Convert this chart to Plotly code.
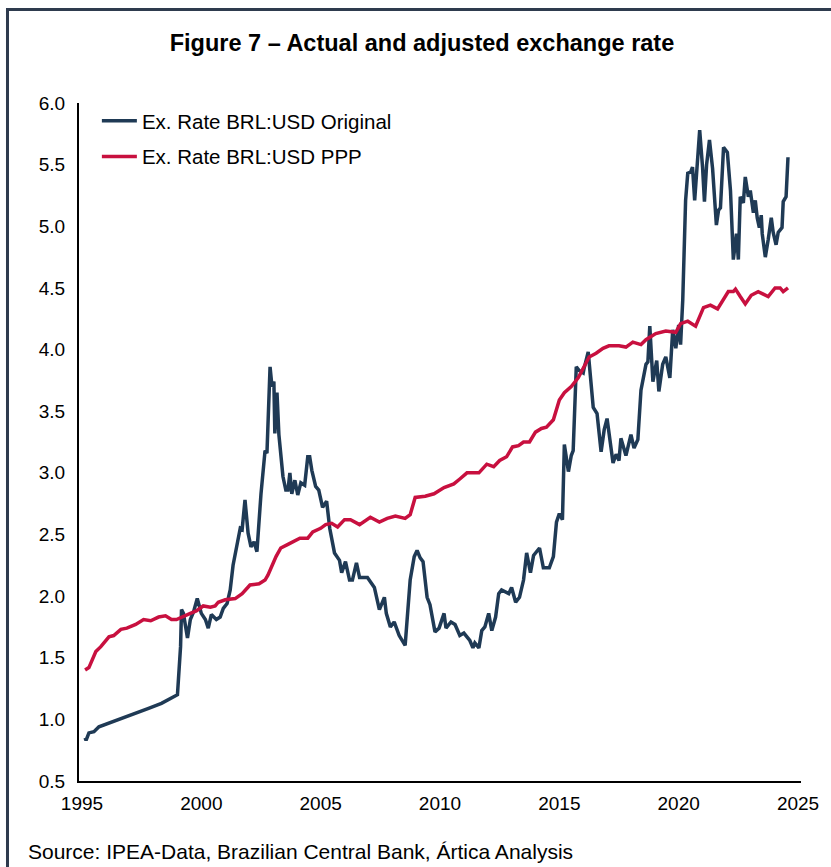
import plotly.graph_objects as go

# Ex. Rate BRL:USD Original (decimal year, value)
orig_year = [1995.13, 1995.17, 1995.29, 1995.42, 1995.50, 1995.71, 1996.00, 1996.25, 1996.67, 1997.25,
             1997.79, 1998.33, 1998.75, 1999.00, 1999.13, 1999.17, 1999.25, 1999.42, 1999.54, 1999.67,
             1999.83, 2000.00, 2000.17, 2000.29, 2000.42, 2000.63, 2000.79, 2000.92, 2001.08, 2001.21,
             2001.33, 2001.46, 2001.63, 2001.71, 2001.83, 2001.96, 2002.08, 2002.21, 2002.33, 2002.50,
             2002.67, 2002.75, 2002.88, 2002.96, 2003.04, 2003.08, 2003.17, 2003.25, 2003.42, 2003.54,
             2003.63, 2003.71, 2003.79, 2003.92, 2004.04, 2004.17, 2004.33, 2004.46, 2004.54, 2004.63,
             2004.79, 2004.92, 2005.08, 2005.25, 2005.38, 2005.58, 2005.79, 2005.88, 2006.04, 2006.21,
             2006.33, 2006.50, 2006.63, 2006.83, 2006.96, 2007.25, 2007.46, 2007.67, 2007.75, 2007.92,
             2008.08, 2008.29, 2008.54, 2008.75, 2008.92, 2009.04, 2009.17, 2009.29, 2009.46, 2009.58,
             2009.79, 2009.96, 2010.17, 2010.25, 2010.46, 2010.63, 2010.83, 2011.00, 2011.13, 2011.25,
             2011.38, 2011.46, 2011.63, 2011.75, 2011.88, 2012.04, 2012.17, 2012.33, 2012.46, 2012.58,
             2012.88, 2013.00, 2013.17, 2013.33, 2013.50, 2013.63, 2013.79, 2013.92, 2014.17, 2014.33,
             2014.58, 2014.75, 2014.88, 2015.00, 2015.13, 2015.21, 2015.38, 2015.50, 2015.58, 2015.71,
             2015.83, 2016.00, 2016.04, 2016.21, 2016.42, 2016.58, 2016.75, 2016.88, 2017.00, 2017.13,
             2017.25, 2017.38, 2017.50, 2017.58, 2017.79, 2018.00, 2018.13, 2018.29, 2018.42, 2018.63,
             2018.71, 2018.79, 2018.92, 2019.08, 2019.17, 2019.33, 2019.46, 2019.63, 2019.75, 2019.88,
             2020.00, 2020.08, 2020.17, 2020.29, 2020.38, 2020.50, 2020.58, 2020.67, 2020.79, 2020.88,
             2021.00, 2021.08, 2021.17, 2021.29, 2021.42, 2021.58, 2021.67, 2021.75, 2021.88, 2022.04,
             2022.17, 2022.29, 2022.42, 2022.50, 2022.58, 2022.71, 2022.79, 2022.92, 2023.00, 2023.13,
             2023.21, 2023.29, 2023.38, 2023.46, 2023.50, 2023.63, 2023.75, 2023.88, 2023.96, 2024.08,
             2024.17, 2024.33, 2024.38, 2024.50, 2024.58]
orig_value = [0.85, 0.83, 0.89, 0.90, 0.90, 0.94, 0.96, 0.98, 1.01, 1.05,
              1.09, 1.13, 1.17, 1.20, 1.59, 1.89, 1.86, 1.66, 1.81, 1.87,
              1.98, 1.86, 1.81, 1.74, 1.85, 1.81, 1.83, 1.90, 1.94, 2.05,
              2.25, 2.38, 2.55, 2.54, 2.78, 2.51, 2.40, 2.44, 2.36, 2.83,
              3.18, 3.16, 3.86, 3.70, 3.74, 3.32, 3.65, 3.31, 2.97, 2.86,
              2.86, 3.00, 2.83, 2.94, 2.82, 2.92, 2.90, 3.13, 3.13, 3.02,
              2.89, 2.86, 2.72, 2.77, 2.55, 2.35, 2.29, 2.19, 2.28, 2.13,
              2.13, 2.27, 2.15, 2.15, 2.15, 2.07, 1.89, 1.99, 1.86, 1.75,
              1.79, 1.68, 1.60, 2.13, 2.32, 2.37, 2.31, 2.28, 1.99, 1.93,
              1.71, 1.74, 1.86, 1.74, 1.79, 1.77, 1.68, 1.70, 1.67, 1.64,
              1.58, 1.62, 1.58, 1.72, 1.75, 1.86, 1.72, 1.83, 2.02, 2.05,
              2.02, 2.07, 1.95, 1.99, 2.13, 2.35, 2.19, 2.33, 2.39, 2.23,
              2.23, 2.32, 2.60, 2.67, 2.62, 3.23, 3.01, 3.14, 3.18, 3.86,
              3.83, 3.81, 3.85, 3.98, 3.53, 3.48, 3.17, 3.35, 3.44, 3.27,
              3.08, 3.15, 3.10, 3.28, 3.14, 3.31, 3.20, 3.27, 3.67, 3.88,
              3.90, 4.19, 3.74, 3.91, 3.66, 3.88, 3.94, 3.77, 4.16, 4.01,
              4.20, 4.04, 4.40, 5.21, 5.43, 5.44, 5.48, 5.21, 5.56, 5.78,
              5.48, 5.20, 5.50, 5.70, 5.47, 5.01, 5.13, 5.15, 5.64, 5.60,
              5.29, 4.73, 4.94, 4.73, 5.24, 5.19, 5.40, 5.24, 5.29, 5.11,
              5.21, 5.07, 4.99, 5.09, 4.94, 4.75, 4.89, 5.07, 4.95, 4.85,
              4.95, 4.99, 5.20, 5.24, 5.56]

# Ex. Rate BRL:USD PPP (decimal year, value)
ppp_year = [1995.13, 1995.29, 1995.58, 1995.79, 1996.13, 1996.33, 1996.63, 1996.88, 1997.25, 1997.58,
            1997.88, 1998.21, 1998.50, 1998.75, 1998.96, 1999.17, 1999.54, 1999.79, 2000.08, 2000.38,
            2000.58, 2000.71, 2001.00, 2001.42, 2001.71, 2002.04, 2002.42, 2002.67, 2002.79, 2003.13,
            2003.33, 2003.63, 2003.92, 2004.13, 2004.46, 2004.67, 2005.00, 2005.21, 2005.46, 2005.71,
            2006.00, 2006.25, 2006.63, 2007.08, 2007.46, 2007.79, 2008.13, 2008.54, 2008.75, 2008.96,
            2009.38, 2009.75, 2010.17, 2010.58, 2010.83, 2011.13, 2011.63, 2011.96, 2012.25, 2012.50,
            2012.79, 2013.04, 2013.29, 2013.50, 2013.75, 2014.00, 2014.25, 2014.46, 2014.75, 2015.00,
            2015.21, 2015.50, 2015.79, 2016.04, 2016.25, 2016.54, 2016.83, 2017.08, 2017.50, 2017.79,
            2018.08, 2018.42, 2018.63, 2019.04, 2019.46, 2019.88, 2020.08, 2020.38, 2020.71, 2021.04,
            2021.33, 2021.63, 2021.96, 2022.08, 2022.29, 2022.38, 2022.58, 2022.79, 2023.04, 2023.33,
            2023.75, 2024.04, 2024.25, 2024.38, 2024.58]
ppp_value = [1.40, 1.42, 1.55, 1.59, 1.67, 1.68, 1.73, 1.74, 1.77, 1.81,
             1.80, 1.83, 1.84, 1.81, 1.81, 1.83, 1.86, 1.88, 1.92, 1.91,
             1.92, 1.95, 1.97, 1.98, 2.02, 2.09, 2.10, 2.13, 2.17, 2.32,
             2.39, 2.42, 2.45, 2.47, 2.47, 2.52, 2.55, 2.58, 2.59, 2.56,
             2.62, 2.62, 2.58, 2.64, 2.60, 2.63, 2.65, 2.63, 2.66, 2.80,
             2.81, 2.83, 2.88, 2.91, 2.95, 3.00, 3.00, 3.07, 3.05, 3.10,
             3.13, 3.21, 3.22, 3.25, 3.25, 3.33, 3.36, 3.37, 3.43, 3.59,
             3.65, 3.70, 3.77, 3.86, 3.94, 3.97, 4.01, 4.03, 4.03, 4.02,
             4.06, 4.04, 4.08, 4.13, 4.15, 4.14, 4.21, 4.23, 4.19, 4.34,
             4.36, 4.33, 4.44, 4.47, 4.47, 4.49, 4.43, 4.37, 4.44, 4.47,
             4.43, 4.50, 4.50, 4.47, 4.50]

x_ticks = [1995, 2000, 2005, 2010, 2015, 2020, 2025]
y_ticks = [0.5, 1.0, 1.5, 2.0, 2.5, 3.0, 3.5, 4.0, 4.5, 5.0, 5.5, 6.0]

NAVY = "#1F3A55"
RED = "#C8103F"
FRAME = "#2E3B4E"
FONT = "Liberation Sans, Arial, sans-serif"

fig = go.Figure()
fig.add_trace(go.Scatter(x=orig_year, y=orig_value, mode="lines",
                         name="Ex. Rate BRL:USD Original", legendgroup="a",
                         line=dict(color=NAVY, width=3.5)))
fig.add_trace(go.Scatter(x=ppp_year, y=ppp_value, mode="lines",
                         name="Ex. Rate BRL:USD PPP", legendgroup="b",
                         line=dict(color=RED, width=3.5)))

W, H = 831, 867
L, R, T, B = 79, 25, 103, 86
pw, ph = W - L - R, H - T - B

def px(xp):
    return (xp - L) / pw

def py(yp):
    return (H - B - yp) / ph

frame_lines = [
    dict(type="line", xref="paper", yref="paper",
         x0=px(5.5), x1=px(W + 10), y0=py(9.5), y1=py(9.5),
         line=dict(color=FRAME, width=3)),
    dict(type="line", xref="paper", yref="paper",
         x0=px(7), x1=px(7), y0=py(8), y1=py(H + 10),
         line=dict(color=FRAME, width=3)),
]

fig.update_layout(
    width=W, height=H,
    margin=dict(l=L, r=R, t=T, b=B),
    paper_bgcolor="white", plot_bgcolor="white",
    font=dict(family=FONT, size=19, color="#000000"),
    title=dict(text="<b>Figure 7 – Actual and adjusted exchange rate</b>",
               x=422 / W, xanchor="center", xref="container",
               y=1 - 43 / H, yanchor="middle", yref="container",
               font=dict(size=23.5, family=FONT, color="#000000")),
    showlegend=True,
    legend=dict(x=px(97), y=py(101), xanchor="left", yanchor="top",
                bgcolor="rgba(0,0,0,0)", itemwidth=35, tracegroupgap=6,
                traceorder="grouped", font=dict(size=20.5, family=FONT)),
    xaxis=dict(range=[1994.875, 2025.125], tickvals=x_ticks,
               ticktext=[str(v) for v in x_ticks],
               showgrid=False, zeroline=False, showline=True,
               linecolor="#000000", linewidth=2, ticks="",
               ticklabelstandoff=4,
               tickfont=dict(size=19, family=FONT)),
    yaxis=dict(range=[0.5, 6.0], tickvals=y_ticks,
               ticktext=[f"{v:.1f}" for v in y_ticks],
               showgrid=False, zeroline=False, showline=True,
               linecolor="#000000", linewidth=2, ticks="",
               ticklabelstandoff=8,
               tickfont=dict(size=19, family=FONT)),
    shapes=frame_lines,
    annotations=[dict(text="Source: IPEA-Data, Brazilian Central Bank, Ártica Analysis",
                      xref="paper", yref="paper", x=px(26), y=py(851),
                      xanchor="left", yanchor="middle", showarrow=False,
                      font=dict(size=21, family=FONT, color="#000000"))],
)

fig.write_html("out.html", config={"displayModeBar": False},
               post_script="document.body.style.margin='0';document.body.style.overflow='hidden';")
